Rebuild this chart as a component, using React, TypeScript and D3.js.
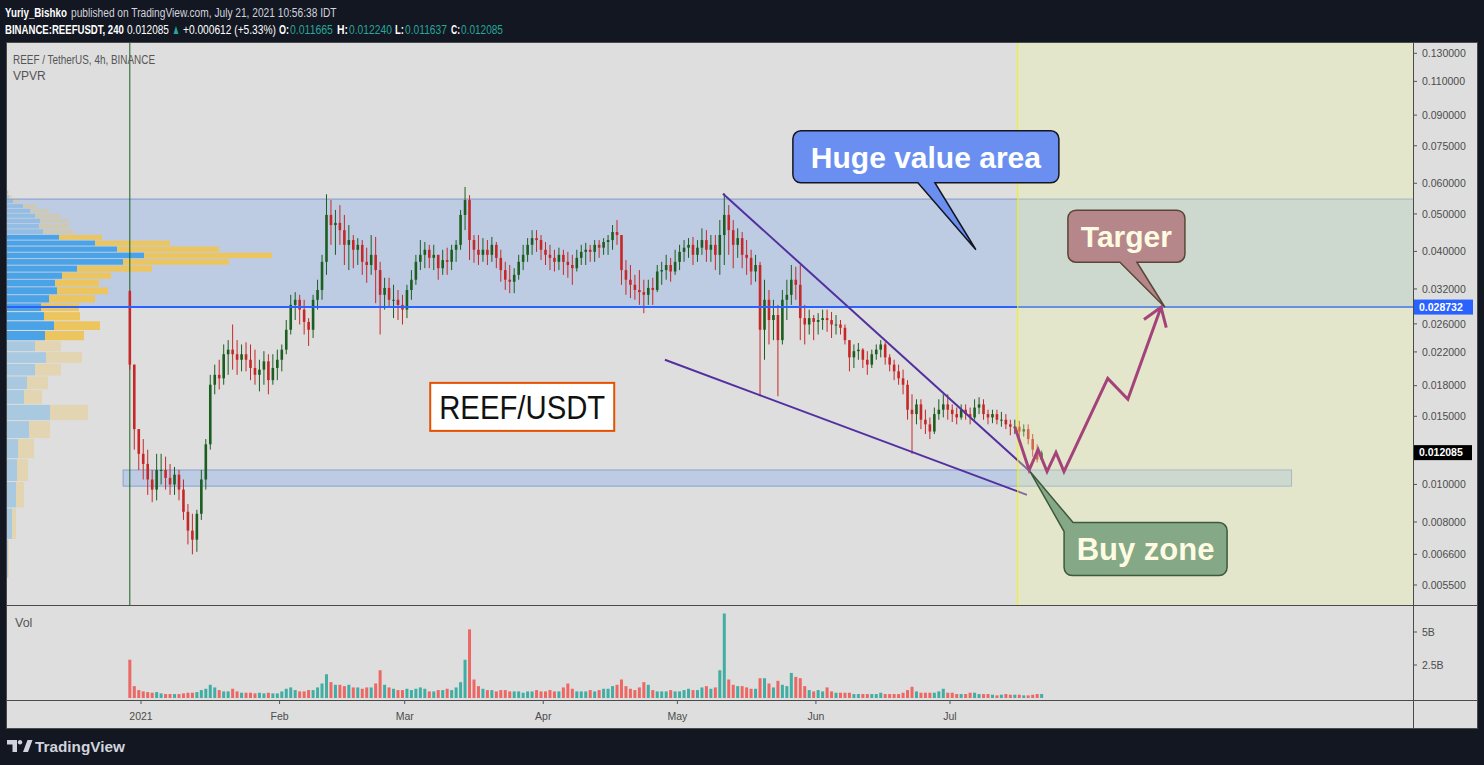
import React, { useLayoutEffect, useRef } from "react";
import * as d3 from "d3";

// ---------------- DATA ----------------
const firstBarDay = "2020-12-29"; // daily bars, one per day
const firstOpen = 0.0316;
const highs = [
  0.0318, 0.0186, 0.0139, 0.0131, 0.0123, 0.0109, 0.012, 0.012, 0.0118, 0.0113, 0.0111, 0.0109, 0.0103, 0.0089, 0.0084, 0.0086, 0.0109, 0.0131, 0.0192, 0.0204,
  0.021, 0.023, 0.0236, 0.0259, 0.0236, 0.023, 0.0233, 0.023, 0.0223, 0.021, 0.0221, 0.0217, 0.0217, 0.0223, 0.023, 0.0266, 0.0309, 0.0314, 0.0309, 0.03,
  0.0269, 0.0309, 0.0338, 0.0392, 0.0562, 0.0543, 0.0512, 0.0527, 0.0497, 0.0468, 0.0441, 0.0433, 0.0428, 0.0409, 0.0441, 0.0436, 0.0376, 0.0342, 0.0342, 0.0328,
  0.0318, 0.0309, 0.0328, 0.0358, 0.0392, 0.0428, 0.0423, 0.0416, 0.0416, 0.0392, 0.0404, 0.0409, 0.0416, 0.0428, 0.0512, 0.0587, 0.0559, 0.0441, 0.0441, 0.0433,
  0.0428, 0.0436, 0.0423, 0.0404, 0.0376, 0.0369, 0.0362, 0.0392, 0.0416, 0.0433, 0.0454, 0.0454, 0.0441, 0.0423, 0.0416, 0.0404, 0.0409, 0.0404, 0.0399, 0.0392,
  0.0404, 0.0416, 0.0421, 0.0416, 0.0428, 0.0428, 0.0433, 0.0441, 0.0468, 0.0482, 0.0441, 0.038, 0.0369, 0.0348, 0.0358, 0.0338, 0.0338, 0.0342, 0.0369, 0.0376,
  0.0392, 0.0385, 0.0404, 0.0416, 0.0428, 0.0433, 0.0436, 0.0428, 0.0459, 0.0454, 0.0441, 0.0441, 0.0482, 0.0565, 0.0527, 0.0482, 0.0459, 0.0449, 0.0428, 0.0404,
  0.0392, 0.0376, 0.0338, 0.0318, 0.03, 0.0291, 0.0318, 0.0338, 0.0369, 0.0365, 0.0369, 0.0291, 0.0283, 0.0274, 0.0277, 0.0283, 0.0283, 0.0279, 0.0274, 0.0266,
  0.0259, 0.0236, 0.023, 0.0232, 0.0225, 0.0221, 0.0223, 0.023, 0.0236, 0.0233, 0.0217, 0.021, 0.0204, 0.0198, 0.0186, 0.0171, 0.0166, 0.0166, 0.0156, 0.0149,
  0.0158, 0.0166, 0.0171, 0.0171, 0.0161, 0.0158, 0.0161, 0.0161, 0.0158, 0.0166, 0.0168, 0.0166, 0.0156, 0.0156, 0.0156, 0.0154, 0.0152, 0.0147, 0.0147, 0.0146,
  0.0143, 0.0143, 0.0135, 0.0127, 0.01224,
];
const lows = [
  0.0198, 0.0123, 0.0109, 0.0103, 0.0094, 0.009, 0.0091, 0.01, 0.0097, 0.0094, 0.0094, 0.0091, 0.0081, 0.007, 0.0066, 0.0067, 0.0081, 0.0097, 0.0123, 0.0171,
  0.0176, 0.0181, 0.0192, 0.0198, 0.0192, 0.0196, 0.0196, 0.0186, 0.0181, 0.0174, 0.0181, 0.0171, 0.0181, 0.0186, 0.0196, 0.0217, 0.0244, 0.0266, 0.0259, 0.0244,
  0.0228, 0.0239, 0.0283, 0.03, 0.0348, 0.0416, 0.0392, 0.0416, 0.0369, 0.0358, 0.0362, 0.0369, 0.0348, 0.0332, 0.0348, 0.0294, 0.0244, 0.0283, 0.0286, 0.0269,
  0.0266, 0.0259, 0.0269, 0.03, 0.0328, 0.0358, 0.0362, 0.0362, 0.0358, 0.0338, 0.0348, 0.0348, 0.0358, 0.0376, 0.0404, 0.0454, 0.038, 0.0374, 0.0369, 0.0376,
  0.0369, 0.0376, 0.0362, 0.0334, 0.0318, 0.0312, 0.0312, 0.0338, 0.0358, 0.0376, 0.0392, 0.0399, 0.038, 0.0369, 0.0358, 0.0355, 0.0358, 0.0348, 0.0342, 0.0328,
  0.0355, 0.0369, 0.0369, 0.0376, 0.0376, 0.0385, 0.0392, 0.0392, 0.0404, 0.0416, 0.0328, 0.0309, 0.0303, 0.03, 0.0291, 0.0277, 0.0291, 0.0291, 0.0314, 0.0328,
  0.0338, 0.0334, 0.0348, 0.0358, 0.0376, 0.0385, 0.0369, 0.0376, 0.0392, 0.0376, 0.0376, 0.0358, 0.0348, 0.0369, 0.0392, 0.0362, 0.0385, 0.0362, 0.0348, 0.0328,
  0.0334, 0.0169, 0.021, 0.023, 0.0236, 0.0169, 0.023, 0.0266, 0.0291, 0.03, 0.0236, 0.023, 0.0244, 0.0236, 0.0244, 0.0251, 0.0248, 0.0239, 0.0244, 0.0244,
  0.023, 0.0196, 0.02, 0.021, 0.02, 0.0192, 0.02, 0.021, 0.0213, 0.0204, 0.0196, 0.0186, 0.0181, 0.0171, 0.0147, 0.012, 0.0143, 0.0139, 0.0135, 0.0131,
  0.0135, 0.0147, 0.0149, 0.0147, 0.0145, 0.0143, 0.0147, 0.0147, 0.0143, 0.0147, 0.0152, 0.0147, 0.0143, 0.0144, 0.0143, 0.0141, 0.0139, 0.0134, 0.0135, 0.0131,
  0.0133, 0.0127, 0.0118, 0.0114, 0.011637,
];
const closes = [
  0.0204, 0.0139, 0.012, 0.0113, 0.0103, 0.0097, 0.0109, 0.0109, 0.0104, 0.01, 0.0106, 0.0097, 0.0085, 0.0076, 0.0072, 0.0084, 0.0103, 0.0127, 0.0181, 0.0192,
  0.0188, 0.0217, 0.0223, 0.0217, 0.021, 0.0217, 0.021, 0.02, 0.0192, 0.0198, 0.0208, 0.0186, 0.02, 0.021, 0.0223, 0.0251, 0.0291, 0.03, 0.0283, 0.0263,
  0.0251, 0.03, 0.0318, 0.0376, 0.0497, 0.0468, 0.0474, 0.0454, 0.0416, 0.0428, 0.0404, 0.0416, 0.0376, 0.0369, 0.0392, 0.0358, 0.0309, 0.0322, 0.03, 0.03,
  0.0291, 0.0283, 0.0318, 0.0338, 0.0376, 0.0392, 0.0404, 0.0385, 0.0392, 0.0362, 0.038, 0.0376, 0.0404, 0.0416, 0.0497, 0.0543, 0.0428, 0.0404, 0.0392, 0.0404,
  0.0392, 0.0416, 0.0385, 0.0358, 0.0338, 0.0334, 0.0348, 0.0376, 0.0392, 0.0416, 0.0433, 0.0428, 0.0404, 0.0392, 0.0385, 0.0376, 0.0392, 0.0376, 0.0369, 0.0362,
  0.0385, 0.0399, 0.0404, 0.0399, 0.0416, 0.0409, 0.0423, 0.0428, 0.0449, 0.0441, 0.0358, 0.0338, 0.0328, 0.0318, 0.0314, 0.0309, 0.0322, 0.0318, 0.0355, 0.0358,
  0.0369, 0.0355, 0.0376, 0.0399, 0.0409, 0.0416, 0.0392, 0.0409, 0.0428, 0.0404, 0.0416, 0.0392, 0.0441, 0.0497, 0.0454, 0.0416, 0.0433, 0.0392, 0.0385, 0.0355,
  0.0369, 0.0251, 0.03, 0.0266, 0.0274, 0.0236, 0.03, 0.0309, 0.0338, 0.0328, 0.0269, 0.0259, 0.0269, 0.0263, 0.0266, 0.0269, 0.0266, 0.0259, 0.0259, 0.0254,
  0.0236, 0.0213, 0.0221, 0.0223, 0.021, 0.0204, 0.0217, 0.0223, 0.023, 0.0213, 0.0204, 0.0196, 0.0188, 0.0181, 0.0156, 0.0152, 0.0161, 0.0147, 0.0143, 0.0137,
  0.0152, 0.0156, 0.0161, 0.0156, 0.0152, 0.0149, 0.0156, 0.0152, 0.0149, 0.0158, 0.0161, 0.0152, 0.0149, 0.0152, 0.0147, 0.0147, 0.0143, 0.0141, 0.0141, 0.0137,
  0.0139, 0.0131, 0.0123, 0.0116, 0.012085,
];
// volume in billions (tallest bar of each day)
const volumes = [
  2.9, 0.9, 0.6, 0.5, 0.45, 0.4, 0.45, 0.35, 0.3, 0.3, 0.3, 0.3, 0.35, 0.4, 0.4, 0.45, 0.6, 0.7, 1.0, 0.8,
  0.6, 0.5, 0.5, 0.7, 0.5, 0.4, 0.4, 0.4, 0.35, 0.4, 0.35, 0.4, 0.35, 0.35, 0.5, 0.7, 0.8, 0.6, 0.5, 0.5,
  0.6, 0.6, 0.8, 1.1, 1.8, 1.2, 1.0, 1.0, 0.9, 1.0, 0.8, 0.8, 0.7, 0.8, 0.8, 1.1, 2.1, 1.0, 0.8, 0.7,
  0.6, 0.6, 0.7, 0.6, 0.7, 0.8, 0.7, 0.5, 0.5, 0.6, 0.6, 0.7, 0.6, 0.8, 1.2, 2.9, 5.2, 1.4, 0.9, 0.7,
  0.6, 0.6, 0.5, 0.6, 0.6, 0.5, 0.5, 0.5, 0.4, 0.5, 0.5, 0.6, 0.5, 0.5, 0.6, 0.5, 0.5, 0.8, 1.1, 0.7,
  0.5, 0.5, 0.5, 0.6, 0.5, 0.6, 0.7, 0.7, 0.9, 1.0, 1.4, 0.9, 0.7, 0.6, 0.8, 1.2, 1.0, 0.6, 0.5, 0.5,
  0.5, 0.6, 0.5, 0.5, 0.6, 0.7, 0.6, 0.6, 0.8, 0.9, 0.7, 0.8, 2.1, 6.4, 1.4, 1.0, 0.9, 0.9, 0.8, 0.7,
  0.7, 1.5, 1.5, 1.1, 0.8, 1.3, 1.0, 0.9, 1.9, 1.6, 1.5, 0.9, 0.6, 0.5, 0.6, 0.5, 0.8, 0.5, 0.4, 0.4,
  0.4, 0.4, 0.3, 0.3, 0.3, 0.3, 0.3, 0.3, 0.4, 0.3, 0.3, 0.3, 0.3, 0.4, 0.6, 0.85, 0.5, 0.4, 0.4, 0.4,
  0.4, 0.5, 0.7, 0.4, 0.4, 0.3, 0.3, 0.3, 0.4, 0.4, 0.3, 0.3, 0.3, 0.25, 0.2, 0.25, 0.3, 0.25, 0.25, 0.25,
  0.2, 0.2, 0.25, 0.3, 0.3,
];

// Volume profile (VPVR): rows from top price down, equal price steps
const vpTopPrice = 0.0576;
const vpStep = 0.001482;
const vpUp = [1, 2, 6, 16, 23, 28, 33, 32, 36, 52, 88, 110, 137, 116, 70, 55, 48, 50, 42, 34, 37, 47, 38, 28, 39, 28, 20, 17, 43, 22, 11, 10, 9, 5, 1];
const vpTotal = [2, 5, 12, 29, 42, 53, 62, 62, 67, 95, 163, 212, 265, 222, 145, 104, 92, 101, 88, 72, 73, 93, 77, 54, 75, 54, 41, 35, 81, 43, 27, 21, 17, 9, 2];
const vpValueArea = [9, 22]; // first and last highlighted row

// Axis ticks
const priceTicks = [0.13, 0.11, 0.09, 0.075, 0.06, 0.05, 0.04, 0.032, 0.026, 0.022, 0.018, 0.015, 0.01, 0.008, 0.0066, 0.0055];
const timeTicks = ["2021-01-01", "2021-02-01", "2021-03-01", "2021-04-01", "2021-05-01", "2021-06-01", "2021-07-01"];
const timeTickLabels = ["2021", "Feb", "Mar", "Apr", "May", "Jun", "Jul"];
const volTicks = [5, 2.5];
const volTickLabels = ["5B", "2.5B"];

// Header pieces: text, weight, colour
const header1 = [
  { t: "Yuriy_Bishko", b: true, c: "#ffffff" },
  { t: "published on TradingView.com, July 21, 2021 10:56:38 IDT", b: false, c: "#d1d4dc" },
];
const header2 = [
  { t: "BINANCE:REEFUSDT, 240", b: true, c: "#ffffff" },
  { t: "0.012085", b: false, c: "#ffffff" },
  { t: "▲", b: false, c: "#26a69a" },
  { t: "+0.000612 (+5.33%)", b: false, c: "#ffffff" },
  { t: "O:", b: true, c: "#ffffff" },
  { t: "0.011665", b: false, c: "#26a69a" },
  { t: "H:", b: true, c: "#ffffff" },
  { t: "0.012240", b: false, c: "#26a69a" },
  { t: "L:", b: true, c: "#ffffff" },
  { t: "0.011637", b: false, c: "#26a69a" },
  { t: "C:", b: true, c: "#ffffff" },
  { t: "0.012085", b: false, c: "#26a69a" },
];
// left / right pixel extents of each header piece
const header1Spans = [[5, 67], [71, 337]];
const header2Spans = [[5, 124], [127, 169], [172, 180], [183, 276], [279, 289], [290, 333], [337, 348], [349, 392], [395, 404], [405, 447], [451, 460], [461, 503]];

// Drawings
const hLinePrice = 0.028732;
const lastPrice = 0.012085;
const valueAreaTop = 0.0546;
const buyZoneDates = ["2020-12-28T00:00", "2021-09-15T10:00"];
const buyZonePrices = [0.0109, 0.0099];
const upperTrendDates = ["2021-05-11T05:00", "2021-07-18T22:00"];
const upperTrendPrices = [0.0564, 0.0108];
const lowerTrendDates = ["2021-04-28T05:00", "2021-07-18T05:00"];
const lowerTrendPrices = [0.021, 0.0094];
const forecastDates = ["2021-07-15T12:00", "2021-07-18T17:00", "2021-07-20T17:00", "2021-07-22T17:00", "2021-07-24T17:00", "2021-07-26T12:00", "2021-08-05T07:00", "2021-08-09T19:00", "2021-08-17T05:00"];
const forecastPrices = [0.0141, 0.0109, 0.0123, 0.0108, 0.0121, 0.0108, 0.0188, 0.0166, 0.0287];
const futureStart = "2021-07-16T04:00";
const hugeTip = { date: "2021-07-06T19:00", price: 0.0404 };
const targerTip = { date: "2021-08-18T02:00", price: 0.0287 };
const buyTip = { date: "2021-07-18T22:00", price: 0.0108 };
const pairLabelAnchor = { date: "2021-03-06T17:00", price: 0.0183 };

// ---------------- LAYOUT ----------------
const W = 1484;
const H = 765;
const PL = 7, PR = 1413, PT = 43, PB = 605, RIGHT = 1477, BOTTOM = 728, VOLBASE = 700;
const DAY = 86400000;
const utc = (s: string) => new Date(s.length <= 10 ? s + "T00:00:00Z" : s + ":00Z");

const x = d3.scaleUtc().domain([utc("2021-01-01"), utc("2021-07-01")]).range([141, 950]);
const y = d3.scaleLog().domain([0.004882, 0.13822]).range([PB, PT]);
const yv = d3.scaleLinear().domain([0, 5]).range([698, 632]);
const xvp = d3.scaleLinear().domain([0, 265]).range([PL, PL + 265]);

const start = utc(firstBarDay).getTime();
const candles = closes.map((c, i) => {
  const o = i === 0 ? firstOpen : closes[i - 1];
  return {
    date: new Date(start + (i + 0.5) * DAY),
    o,
    c,
    h: Math.max(highs[i], o, c),
    l: Math.min(lows[i], o, c),
    v: volumes[i],
  };
});

const UP = "#1b5e20";
const DOWN = "#c62828";
const fmt = (v: number) => v.toFixed(6);

function bubbleBottom(bx: number, by: number, bw: number, bh: number, r: number, t1: number, t2: number, tx: number, ty: number) {
  return `M${bx + r},${by} H${bx + bw - r} A${r},${r} 0 0 1 ${bx + bw},${by + r} V${by + bh - r} A${r},${r} 0 0 1 ${bx + bw - r},${by + bh} H${t2} L${tx},${ty} L${t1},${by + bh} H${bx + r} A${r},${r} 0 0 1 ${bx},${by + bh - r} V${by + r} A${r},${r} 0 0 1 ${bx + r},${by} Z`;
}
function bubbleTopLeft(bx: number, by: number, bw: number, bh: number, r: number, topX: number, leftY: number, tx: number, ty: number) {
  return `M${topX},${by} H${bx + bw - r} A${r},${r} 0 0 1 ${bx + bw},${by + r} V${by + bh - r} A${r},${r} 0 0 1 ${bx + bw - r},${by + bh} H${bx + r} A${r},${r} 0 0 1 ${bx},${by + bh - r} V${leftY} L${tx},${ty} Z`;
}

export default function App() {
  const headerRefs = useRef<(SVGTextElement | null)[]>([]);

  // squeeze each header piece horizontally so it fills its span (condensed look)
  useLayoutEffect(() => {
    headerRefs.current.forEach((el) => {
      if (!el) return;
      const x0 = Number(el.getAttribute("data-x0"));
      const x1 = Number(el.getAttribute("data-x1"));
      const yy = Number(el.getAttribute("data-y"));
      const len = el.getComputedTextLength();
      const sx = len > 0 ? (x1 - x0) / len : 1;
      el.setAttribute("transform", `translate(${x0},${yy}) scale(${sx},1)`);
    });
  }, []);

  const line = d3.line<[number, number]>().x((d) => d[0]).y((d) => d[1]);
  const pt = (d: string, p: number): [number, number] => [x(utc(d)), y(p)];

  const upper = upperTrendDates.map((d, i) => pt(d, upperTrendPrices[i]));
  const lower = lowerTrendDates.map((d, i) => pt(d, lowerTrendPrices[i]));
  const fc = forecastDates.map((d, i) => pt(d, forecastPrices[i]));
  const tip = fc[fc.length - 1];
  const prev = fc[fc.length - 2];
  const ang = Math.atan2(prev[1] - tip[1], prev[0] - tip[0]);
  const ah = 21, spread = 0.6;
  const wing1: [number, number] = [tip[0] + ah * Math.cos(ang - spread), tip[1] + ah * Math.sin(ang - spread)];
  const wing2: [number, number] = [tip[0] + ah * Math.cos(ang + spread), tip[1] + ah * Math.sin(ang + spread)];

  const fx = x(utc(futureStart));
  const hT = pt(hugeTip.date, hugeTip.price);
  const tT = pt(targerTip.date, targerTip.price);
  const bT = pt(buyTip.date, buyTip.price);
  const pA = pt(pairLabelAnchor.date, pairLabelAnchor.price);
  const bz0 = pt(buyZoneDates[0], buyZonePrices[0]);
  const bz1 = pt(buyZoneDates[1], buyZonePrices[1]);
  const firstX = x(candles[0].date);

  const cw = 2.6;
  const axisFont = "'Liberation Sans', Arial, sans-serif";

  let refIdx = 0;
  const headerRow = (pieces: typeof header1, spans: number[][], yy: number) =>
    pieces.map((p, i) => {
      const k = refIdx++;
      return (
        <text key={`${yy}-${i}`} ref={(el) => { headerRefs.current[k] = el; }}
          data-x0={spans[i][0]} data-x1={spans[i][1]} data-y={yy}
          transform={`translate(${spans[i][0]},${yy})`} x={0} y={0}
          fontSize={13.5} fontWeight={p.b ? "bold" : "normal"} fill={p.c}>{p.t}</text>
      );
    });

  return (
    <svg width={W} height={H} style={{ position: "fixed", left: 0, top: 0, display: "block" }} fontFamily={axisFont}>
      <defs>
        <clipPath id="pane">
          <rect x={PL} y={PT} width={PR - PL} height={PB - PT} />
        </clipPath>
        <clipPath id="vpane">
          <rect x={PL} y={PB} width={PR - PL} height={VOLBASE - PB} />
        </clipPath>
      </defs>
      <rect x={0} y={0} width={W} height={H} fill="#131722" />

      {/* header */}
      {headerRow(header1, header1Spans, 17)}
      {headerRow(header2, header2Spans, 34)}

      {/* panel */}
      <rect x={PL} y={PT} width={RIGHT - PL} height={BOTTOM - PT} fill="#dedede" />

      <g clipPath="url(#pane)">
        {/* value area */}
        <rect x={PL} y={y(valueAreaTop)} width={PR - PL} height={y(hLinePrice) - y(valueAreaTop)} fill="rgba(90,150,242,0.25)" />
        <line x1={PL} x2={PR} y1={y(valueAreaTop)} y2={y(valueAreaTop)} stroke="#8ea3cf" strokeWidth={1.2} />

        {/* volume profile */}
        {vpTotal.map((tot, i) => {
          const top = vpTopPrice - i * vpStep;
          const bot = top - vpStep;
          const y0 = y(top) + 0.5;
          const h = Math.max(1, y(bot) - y(top) - 1);
          const bright = i >= vpValueArea[0] && i <= vpValueArea[1];
          const op = bright ? 1 : 0.35;
          return (
            <g key={i} opacity={op}>
              <rect x={PL} y={y0} width={xvp(vpUp[i]) - PL} height={h} fill="#4aa3e6" />
              <rect x={xvp(vpUp[i])} y={y0} width={xvp(tot) - xvp(vpUp[i])} height={h} fill="#edc55f" />
            </g>
          );
        })}

        {/* buy zone */}
        <rect x={bz0[0]} y={bz0[1]} width={bz1[0] - bz0[0]} height={bz1[1] - bz0[1]} fill="rgba(90,150,242,0.25)" stroke="#8aa2d2" strokeWidth={1} />

        {/* first bar marker */}
        <line x1={firstX} x2={firstX} y1={PT} y2={PB} stroke="#1b5e20" strokeWidth={1} />

        {/* candles */}
        {candles.map((d, i) => {
          const cx = x(d.date);
          const col = d.c >= d.o ? UP : DOWN;
          const yo = y(d.o), yc = y(d.c);
          return (
            <g key={i}>
              <line x1={cx} x2={cx} y1={y(d.h)} y2={y(d.l)} stroke={col} strokeWidth={1} />
              <rect x={cx - cw / 2} y={Math.min(yo, yc)} width={cw} height={Math.max(1, Math.abs(yo - yc))} fill={col} />
            </g>
          );
        })}

        {/* horizontal line */}
        <line x1={PL} x2={PR} y1={y(hLinePrice)} y2={y(hLinePrice)} stroke="#2962ff" strokeWidth={2} />

        {/* trend lines */}
        <path d={line(upper) || ""} stroke="#53309f" strokeWidth={2} fill="none" />
        <path d={line(lower) || ""} stroke="#53309f" strokeWidth={2} fill="none" />

        {/* future shading */}
        <rect x={fx} y={PT} width={PR - fx} height={PB - PT} fill="rgba(242,249,162,0.3)" />
        <line x1={fx} x2={fx} y1={PT} y2={PB} stroke="#f2f500" strokeWidth={1} />

        {/* forecast path */}
        <path d={line(fc) || ""} stroke="#a4427a" strokeWidth={3} fill="none" strokeLinejoin="miter" />
        <path d={line([wing1, tip, wing2]) || ""} stroke="#a4427a" strokeWidth={3} fill="none" />
      </g>

      {/* callouts */}
      <path d={bubbleBottom(hT[0] - 183, hT[1] - 119, 266, 52, 8, hT[0] - 58, hT[0] - 41, hT[0], hT[1])} fill="#6a8ff0" stroke="#15151f" strokeWidth={1.5} />
      <text x={hT[0] - 50} y={hT[1] - 82} textAnchor="middle" fontSize={30} fontWeight="bold" fill="#ffffff">Huge value area</text>

      <path d={bubbleBottom(tT[0] - 97, tT[1] - 97, 117, 52, 8, tT[0] - 45, tT[0] - 28, tT[0], tT[1])} fill="#b5878a" stroke="#5b4636" strokeWidth={1.5} />
      <text x={tT[0] - 38.5} y={tT[1] - 60} textAnchor="middle" fontSize={30} fontWeight="bold" fill="#fffbe3">Targer</text>

      <path d={bubbleTopLeft(bT[0] + 34, bT[1] + 51, 163, 53, 8, bT[0] + 43, bT[1] + 60, bT[0], bT[1])} fill="#85a887" stroke="#3d5a3d" strokeWidth={1.5} />
      <text x={bT[0] + 115.5} y={bT[1] + 88} textAnchor="middle" fontSize={31} fontWeight="bold" fill="#fffbe3">Buy zone</text>

      <rect x={pA[0]} y={pA[1]} width={184} height={48} fill="#ffffff" stroke="#e65100" strokeWidth={2} />
      <text x={pA[0] + 92} y={pA[1] + 36} textAnchor="middle" fontSize={34} fill="#111111" textLength={166} lengthAdjust="spacingAndGlyphs">REEF/USDT</text>

      {/* pane labels */}
      <text x={13} y={64} fontSize={12.5} fill="#555555" textLength={142} lengthAdjust="spacingAndGlyphs">REEF / TetherUS, 4h, BINANCE</text>
      <text x={13} y={80} fontSize={12} fill="#555555">VPVR</text>
      <text x={15} y={627} fontSize={12.5} fill="#555555">Vol</text>

      {/* volume */}
      <g clipPath="url(#vpane)">
        {candles.map((d, i) => (
          <rect key={i} x={x(d.date) - 1.5} y={yv(d.v)} width={3} height={yv(0) - yv(d.v)} fill={d.c >= d.o ? "#26a69a" : "#ef5350"} opacity={0.85} />
        ))}
      </g>

      {/* separators and borders */}
      <line x1={PL} x2={RIGHT} y1={PB + 0.5} y2={PB + 0.5} stroke="#4a4a4a" strokeWidth={1} />
      <line x1={PL} x2={RIGHT} y1={VOLBASE + 0.5} y2={VOLBASE + 0.5} stroke="#4a4a4a" strokeWidth={1} />
      <line x1={PR + 0.5} x2={PR + 0.5} y1={PT} y2={BOTTOM} stroke="#4a4a4a" strokeWidth={1} />
      <rect x={PL - 0.5} y={PT - 0.5} width={RIGHT - PL + 1} height={BOTTOM - PT + 1} fill="none" stroke="#4a4a4a" strokeWidth={1} />

      {/* price axis */}
      {priceTicks.map((p) => (
        <g key={p}>
          <line x1={PR} x2={PR + 4} y1={y(p)} y2={y(p)} stroke="#555" />
          <text x={1422} y={y(p) + 3.8} fontSize={10.5} fill="#4c4c4c">{fmt(p)}</text>
        </g>
      ))}
      <rect x={PR + 1} y={y(hLinePrice) - 7.5} width={59} height={15} fill="#2962ff" />
      <text x={1419} y={y(hLinePrice) + 3.8} fontSize={10.5} fontWeight="bold" fill="#ffffff">{fmt(hLinePrice)}</text>
      <rect x={PR + 1} y={y(lastPrice) - 7.5} width={58} height={15} fill="#000000" />
      <text x={1419} y={y(lastPrice) + 3.8} fontSize={10.5} fontWeight="bold" fill="#ffffff">{fmt(lastPrice)}</text>

      {/* volume axis */}
      {volTicks.map((v, i) => (
        <g key={v}>
          <line x1={PR} x2={PR + 4} y1={yv(v)} y2={yv(v)} stroke="#555" />
          <text x={1422} y={yv(v) + 3.8} fontSize={10.5} fill="#4c4c4c">{volTickLabels[i]}</text>
        </g>
      ))}

      {/* time axis */}
      {timeTicks.map((t, i) => {
        const tx = x(utc(t));
        return (
          <g key={t}>
            <line x1={tx} x2={tx} y1={VOLBASE} y2={VOLBASE + 4} stroke="#555" />
            <text x={tx} y={720} textAnchor="middle" fontSize={10.5} fill="#4c4c4c">{timeTickLabels[i]}</text>
          </g>
        );
      })}

      {/* footer */}
      <path d="M7,740 H17 V752 H12.5 V744.5 H7 Z" fill="#d1d4dc" />
      <circle cx={20} cy={742.3} r={2.2} fill="#d1d4dc" />
      <path d="M23,752 L27.5,740 H32.5 L28,752 Z" fill="#d1d4dc" />
      <text x={35} y={752} fontSize={15.5} fontWeight="bold" fill="#d1d4dc" textLength={90} lengthAdjust="spacingAndGlyphs">TradingView</text>
    </svg>
  );
}
